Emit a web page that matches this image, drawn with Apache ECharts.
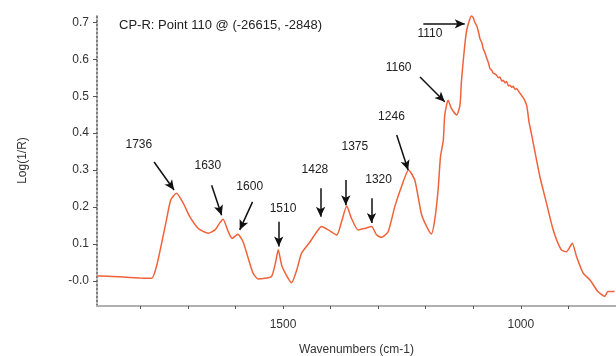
<!DOCTYPE html>
<html>
<head>
<meta charset="utf-8">
<script src="https://cdn.jsdelivr.net/npm/echarts@6/dist/echarts.min.js"></script>
<style>
  html, body { margin: 0; padding: 0; background: #fff; }
  #chart { width: 616px; height: 356px; }
</style>
</head>
<body>
<div id="chart"></div>
<script>
// spectrum
var wavenumbers = [1891, 1881, 1843, 1801, 1776, 1766, 1755, 1745, 1736, 1724, 1710, 1696, 1678, 1657, 1643, 1633, 1626,
  1615, 1607, 1595, 1584, 1573, 1563, 1552, 1538, 1524, 1516, 1510, 1502, 1482, 1471, 1461, 1443, 1429, 1419,
  1405, 1387, 1377, 1366, 1356, 1342, 1328, 1314, 1303, 1293, 1279, 1265, 1251, 1236, 1223, 1209, 1198, 1188,
  1181, 1174, 1169, 1163, 1160, 1153, 1146, 1135, 1128, 1125, 1120, 1114, 1104, 1100, 1097, 1092, 1088, 1086,
  1082, 1079, 1076, 1071, 1068, 1065, 1061, 1058, 1054, 1051, 1047, 1044, 1040, 1037, 1033, 1030, 1026, 1023,
  1019, 1016, 1012, 1009, 1004, 999, 994, 988, 985, 983, 978, 967, 960, 946, 932, 915, 904, 892, 883, 869,
  855, 838, 824, 817, 803];
var logR = [0.013, 0.013, 0.011, 0.008, 0.007, 0.039, 0.103, 0.165, 0.219, 0.237, 0.211, 0.174, 0.142, 0.129, 0.138, 0.157, 0.167,
  0.133, 0.115, 0.126, 0.106, 0.061, 0.021, 0.005, 0.007, 0.012, 0.048, 0.084, 0.039, -0.005, 0.030, 0.075, 0.106, 0.133, 0.147,
  0.138, 0.124, 0.160, 0.203, 0.169, 0.138, 0.142, 0.147, 0.124, 0.118, 0.133, 0.201, 0.255, 0.300, 0.273, 0.181, 0.147, 0.127,
  0.165, 0.246, 0.336, 0.381, 0.449, 0.489, 0.467, 0.449, 0.476, 0.539, 0.611, 0.678, 0.717, 0.712, 0.701, 0.688, 0.668, 0.656,
  0.645, 0.628, 0.620, 0.600, 0.590, 0.575, 0.570, 0.562, 0.560, 0.557, 0.550, 0.552, 0.541, 0.543, 0.536, 0.540, 0.528, 0.530,
  0.524, 0.527, 0.518, 0.521, 0.512, 0.503, 0.494, 0.476, 0.452, 0.431, 0.400, 0.327, 0.282, 0.210, 0.138, 0.084, 0.079, 0.102, 0.066, 0.021,
  0.003, -0.029, -0.042, -0.029, -0.029];

// axis ticks
var yTicks = [0, 0.1, 0.2, 0.3, 0.4, 0.5, 0.6, 0.7];
var xTicks = [800, 900, 1000, 1100, 1200, 1300, 1400, 1500, 1600, 1700, 1800];
var xLabels = [1000, 1500];

// peak labels: text, label point, arrow start, arrow end (data coords)
var peakNames = ['1736', '1630', '1600', '1510', '1428', '1375', '1320', '1246', '1160', '1110'];
var labelAt = [[1803, 0.368], [1658, 0.311], [1570, 0.254], [1500, 0.195], [1433, 0.300],
  [1349, 0.363], [1299, 0.273], [1272, 0.444], [1257, 0.576], [1191, 0.669]];
var arrowFrom = [[1771, 0.322], [1650, 0.259], [1564, 0.214], [1509, 0.160], [1421, 0.251],
  [1368, 0.273], [1314, 0.224], [1261, 0.395], [1212, 0.552], [1205, 0.696]];
var arrowTo = [[1729, 0.246], [1629, 0.178], [1591, 0.138], [1509, 0.093], [1421, 0.174],
  [1368, 0.205], [1314, 0.157], [1237, 0.300], [1160, 0.485], [1118, 0.696]];

var points = wavenumbers.map(function (w, i) { return [w, logR[i]]; });

var myChart = echarts.init(document.getElementById('chart'));
myChart.setOption({
  animation: false,
  textStyle: { fontFamily: 'Liberation Sans, Arial, sans-serif' },
  title: {
    text: 'CP-R: Point 110 @ (-26615, -2848)',
    left: 114, top: 14,
    textStyle: { fontSize: 13, fontWeight: 'normal', color: '#222' }
  },
  grid: { left: 97, right: 0, top: 15, bottom: 50, outerBoundsMode: 'none' },
  xAxis: {
    type: 'value',
    inverse: true,
    min: 800, max: 1891,
    name: 'Wavenumbers (cm-1)',
    nameLocation: 'middle',
    nameGap: 38,
    nameTextStyle: { fontSize: 12, color: '#333' },
    splitLine: { show: false },
    axisLine: { onZero: false, lineStyle: { color: '#b0b0b0', width: 2 } },
    axisTick: { customValues: xTicks, length: 3, lineStyle: { color: '#555' } },
    axisLabel: {
      customValues: xLabels, fontSize: 12, color: '#333', margin: 13,
      formatter: function (v) { return String(v); }
    }
  },
  yAxis: {
    type: 'value',
    min: -0.068, max: 0.72,
    name: 'Log(1/R)',
    nameLocation: 'middle',
    nameGap: 68,
    nameTextStyle: { fontSize: 12, color: '#333' },
    splitLine: { show: false },
    axisLine: { show: true, lineStyle: { color: '#555', width: 1.5, type: [2, 2] } },
    axisTick: { customValues: yTicks, length: 4, lineStyle: { color: '#555' } },
    axisLabel: {
      customValues: yTicks, fontSize: 12, color: '#333', margin: 8,
      formatter: function (v) { return v === 0 ? '-0.0' : v.toFixed(1); }
    }
  },
  series: [{
    type: 'line',
    data: points,
    symbol: 'none',
    smooth: 0.2,
    lineStyle: { color: '#f0623a', width: 1.5 },
    markLine: {
      silent: true,
      symbol: ['none', 'arrow'],
      symbolSize: [7, 10],
      label: { show: false },
      lineStyle: { color: '#111', width: 1.5, type: 'solid' },
      data: arrowFrom.map(function (p, i) { return [{ coord: p }, { coord: arrowTo[i] }]; })
    },
    markPoint: {
      silent: true,
      symbol: 'circle',
      symbolSize: 1,
      itemStyle: { color: 'rgba(0,0,0,0)' },
      label: { show: true, position: 'inside', fontSize: 12, color: '#222' },
      data: peakNames.map(function (n, i) { return { coord: labelAt[i], value: n, label: { formatter: n } }; })
    }
  }]
});
</script>
</body>
</html>
